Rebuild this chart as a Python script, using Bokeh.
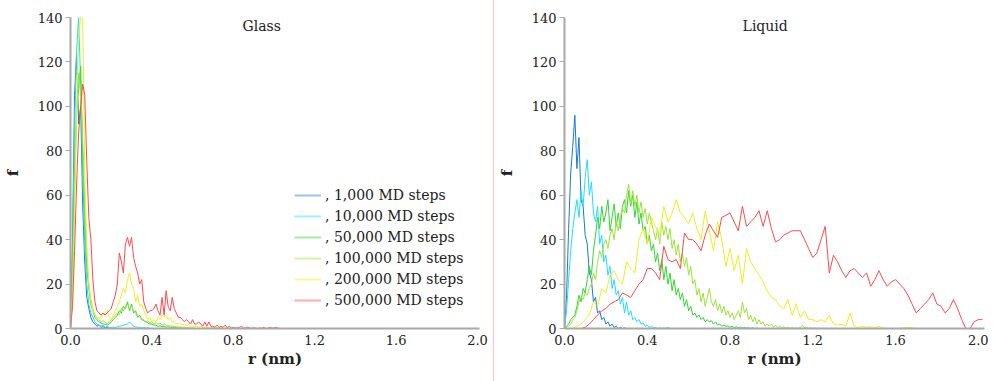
import numpy as np
from bokeh.plotting import figure
from bokeh.layouts import row
from bokeh.models import (ColumnDataSource, Legend, LegendItem, Label, Range1d,
                          FixedTicker, PrintfTickFormatter, Div)
from bokeh.embed import file_html
from bokeh.resources import INLINE

# ---- series definitions ------------------------------------------------------
step_labels = [", 1,000 MD steps", ", 10,000 MD steps", ", 50,000 MD steps",
               ", 100,000 MD steps", ", 200,000 MD steps", ", 500,000 MD steps"]
step_colors = ["#1a7ad4", "#22dcff", "#33d633", "#9be33a", "#eeee22", "#ff4a4a"]

x_ticks = [0.0, 0.4, 0.8, 1.2, 1.6, 2.0]
y_ticks = [0, 20, 40, 60, 80, 100, 120, 140]

# Glass: histogram bins start at r = 0 nm, width 0.01 nm
glass_r0, glass_dr = 0.0, 0.01
glass_1k = [0, 40, 105, 124, 92, 100, 55, 30, 14, 9, 5, 3, 2, 1, 1.5, 0.5, 0.8, 0.3,
            0.5, 0, 0.2, 0, 0.1, 0]
glass_10k = [0, 35, 90, 125, 140, 110, 70, 38, 20, 11, 7, 5, 3, 2, 1.5, 1, 1.5, 0.5, 1,
             0.5, 0.3, 0.6, 0.5, 0.8, 1, 1.2, 1.5, 1.8, 2, 3, 2, 1, 0.8, 0.5, 0.6, 0.3,
             0.4, 0.2, 0.3, 0.1, 0]
glass_50k = [0, 25, 70, 100, 108, 118, 80, 50, 28, 18, 11, 8, 5, 4, 3, 2.5, 2, 2, 1.5, 2,
             3, 4, 5, 6, 8, 7, 10, 9, 12, 8, 11, 7, 8, 5, 6, 4, 3.5, 3, 2.5, 2, 2, 1.5,
             1.5, 1, 1.2, 0.8, 1, 0.6, 0.8, 0.5, 0.6, 0.4, 0.3, 0.2, 0.3, 0.1, 0]
glass_100k = [0, 20, 60, 95, 115, 105, 85, 55, 32, 20, 13, 9, 6, 5, 4, 3, 3.5, 3, 2, 3,
              4, 5, 6, 7, 6, 9, 8, 10, 11, 9, 10, 8, 7, 6, 5, 4.5, 4, 3, 3.5, 2.5, 3, 2,
              2.5, 2, 2.5, 1.5, 2, 1.5, 1.5, 1, 1.2, 0.8, 1, 0.6, 0.8, 0.5, 0.6, 0.3,
              0.4, 0.2, 0.3, 0.1, 0]
glass_200k = [0, 15, 55, 100, 130, 141, 141, 70, 38, 20, 12, 8, 6, 5, 4.5, 5, 6, 7, 8, 5,
              4, 6, 8, 10, 12, 15, 18, 16, 22, 25, 20, 18, 12, 15, 10, 11, 8, 6, 4, 5, 3,
              4, 3, 5, 4, 6, 5, 6, 4, 5, 3, 3, 2, 2.5, 2, 1.5, 2, 1.5, 1.5, 1, 1.2, 0.8,
              1, 0.6, 1, 0.5, 0.8, 0.4, 0.6, 0.3, 0.5, 0.2, 0.4, 0.2, 0.3, 0.1, 0.2, 0,
              0.2, 0, 0]
glass_500k = [0, 10, 35, 65, 88, 100, 110, 105, 75, 50, 40, 22, 12, 8, 7, 6, 7, 6, 7, 8,
              9, 12, 15, 20, 34, 30, 25, 38, 41, 37, 41, 32, 28, 25, 20, 22, 12, 9, 7, 8,
              8, 9, 11, 8, 6, 14, 6, 17, 10, 8, 14, 9, 7, 5, 5, 4, 3, 4, 3, 2, 4, 2, 2,
              3, 2, 1, 3, 1, 3, 1, 1, 0.5, 1.5, 0.5, 1, 0.5, 1.5, 0.3, 1, 0.3, 0.5, 0.2,
              0.3, 0.5, 1, 0.2, 0.3, 0.6, 0.2, 0.1, 0.3, 0.2, 0, 0.3, 0.1, 0.5, 0, 0.1,
              0.6, 0.1, 0.2, 0.6, 0.1, 0]

# Liquid: each run has its own first bin and bin width
liquid_1k_r0, liquid_1k_dr = 0.0, 0.01
liquid_1k = [0, 15, 45, 70, 82, 96, 72, 86, 58, 55, 42, 38, 25, 22, 12, 14, 7, 8, 4, 5,
             2, 3, 1, 2, 0.5, 1, 0, 0.5, 0, 0.3, 0]
liquid_10k_r0, liquid_10k_dr = 0.0, 0.01
liquid_10k = [0, 8, 22, 35, 45, 52, 58, 50, 62, 55, 68, 76, 60, 66, 52, 48, 55, 38, 42,
              30, 33, 24, 28, 18, 22, 15, 17, 11, 14, 7, 12, 6, 8, 4, 5, 3, 4, 2, 2.5, 1,
              1.5, 0.5, 1, 0.3, 0.5, 0, 0.3, 0, 0.3, 0, 0.5, 0]
liquid_50k_r0, liquid_50k_dr = 0.0, 0.01
liquid_50k = [0, 1, 2, 4, 5, 6, 10, 15, 12, 18, 16, 22, 28, 24, 35, 42, 50, 45, 55, 48,
              52, 58, 44, 50, 56, 46, 52, 45, 55, 58, 52, 62, 55, 60, 50, 57, 47, 52, 44,
              46, 38, 42, 35, 38, 30, 34, 26, 31, 22, 28, 20, 25, 17, 22, 15, 18, 13, 16,
              10, 13, 8, 10, 6, 7, 5, 6, 4, 5, 3, 4, 3, 3.5, 2, 3, 1.5, 2, 1, 1.5, 1, 1.2,
              0.5, 1, 0.4, 0.8, 0.3, 0.6, 0.2, 0.5, 0.2, 0.4, 0, 0.3, 0, 0.2, 0, 0]
liquid_100k_r0, liquid_100k_dr = 0.0, 0.01
liquid_100k = [0, 0.5, 1, 2, 4, 5, 8, 12, 14, 13, 16, 15, 18, 20, 25, 22, 30, 35, 32, 38,
               40, 36, 42, 45, 40, 48, 44, 50, 54, 52, 60, 65, 56, 62, 55, 60, 52, 57, 50,
               54, 47, 52, 48, 44, 40, 45, 38, 48, 42, 46, 40, 45, 36, 40, 33, 38, 30, 34,
               28, 32, 24, 28, 20, 22, 15, 18, 12, 16, 10, 14, 18, 12, 10, 13, 8, 11, 7,
               10, 6, 8, 5, 7, 4, 6, 8, 5, 12, 7, 9, 4, 6, 3, 5, 2, 4, 2, 3, 1, 2, 1, 2,
               0.5, 1.5, 0.5, 1, 0.3, 0.8, 0.3, 0.5, 0, 0.5, 0, 0.3, 0, 0.5, 1.5, 0.3,
               0.5, 0, 0.3, 0, 0.3, 0, 0.2, 0]
liquid_200k_r0, liquid_200k_dr = 0.04, 0.02
liquid_200k = [0, 1, 2, 4, 6, 12, 10, 18, 16, 24, 26, 22, 20, 30, 27, 25, 40, 45, 38, 50,
               46, 42, 55, 48, 52, 58, 52, 50, 47, 52, 45, 40, 53, 44, 35, 48, 40, 28, 36,
               26, 33, 20, 36, 30, 27, 24, 21, 17, 14, 13, 10, 9, 13, 6, 11, 5, 8, 4, 4,
               3, 4, 3, 6, 2, 1.5, 2, 1, 7, 1, 0.5, 1, 0.5, 0.8, 0.3, 1, 0.2, 0, 0, 0, 0,
               0.3, 0.5, 0.3, 0]
liquid_500k_r0, liquid_500k_dr = 0.08, 0.02
liquid_500k = [0, 0.5, 2, 4, 6, 8, 9, 11, 12, 13, 16, 15, 14, 17, 20, 22, 27, 27, 25, 22,
               37, 31, 30, 31, 27, 43, 40, 40, 38, 35, 42, 47, 44, 41, 50, 51, 52, 48, 44,
               55, 46, 48, 50, 53, 46, 53, 45, 39, 40, 42, 43, 44, 44, 44, 40, 36, 32, 34,
               40, 46, 25, 33, 30, 26, 23, 26, 27, 25, 23, 25, 19, 22, 26, 22, 19, 21, 22,
               20, 18, 15, 11, 7, 9, 11, 13, 16, 11, 10, 7, 9, 13, 9, 4, 0, 0, 3, 4, 4]

glass_series = [(glass_r0, glass_dr, f) for f in
                (glass_1k, glass_10k, glass_50k, glass_100k, glass_200k, glass_500k)]
liquid_series = [(liquid_1k_r0, liquid_1k_dr, liquid_1k),
                 (liquid_10k_r0, liquid_10k_dr, liquid_10k),
                 (liquid_50k_r0, liquid_50k_dr, liquid_50k),
                 (liquid_100k_r0, liquid_100k_dr, liquid_100k),
                 (liquid_200k_r0, liquid_200k_dr, liquid_200k),
                 (liquid_500k_r0, liquid_500k_dr, liquid_500k)]

SERIF = "DejaVu Serif"
AXIS_GREY = "#a8a8a8"
TEXT = "#222222"


def make_panel(series, title, width, border_left, border_right, x_end, title_x):
    p = figure(width=width, height=381, output_backend="svg", toolbar_location=None,
               x_range=Range1d(0, x_end), y_range=Range1d(0, 140),
               min_border_left=border_left, min_border_right=border_right,
               min_border_top=17, min_border_bottom=53,
               background_fill_color="white", border_fill_color="white")
    p.outline_line_color = None
    p.grid.visible = False

    renderers = []
    for (r0, dr, f), color in zip(series, step_colors):
        f = np.asarray(f, dtype=float)
        r = r0 + dr * np.arange(len(f))
        src = ColumnDataSource(dict(r=r, f=f))
        renderers.append(p.line("r", "f", source=src, line_color=color, line_width=1))

    # axes
    for ax in (p.xaxis, p.yaxis):
        ax.axis_line_color = AXIS_GREY
        ax.axis_line_width = 2
        ax.major_tick_line_color = AXIS_GREY
        ax.major_tick_line_width = 1
        ax.minor_tick_line_color = None
        ax.major_tick_in = 0
        ax.major_label_text_font = SERIF
        ax.major_label_text_font_size = "13px"
        ax.major_label_text_color = TEXT
        ax.axis_label_text_font = SERIF
        ax.axis_label_text_font_style = "bold"
        ax.axis_label_text_font_size = "15px"
        ax.axis_label_text_color = TEXT

    p.xaxis.ticker = FixedTicker(ticks=x_ticks)
    p.xaxis.formatter = PrintfTickFormatter(format="%.1f")
    p.xaxis.major_tick_out = 0
    p.xaxis.major_label_standoff = 6
    p.xaxis.axis_label = "r (nm)"
    p.xaxis.axis_label_standoff = 2

    p.yaxis.ticker = FixedTicker(ticks=y_ticks)
    p.yaxis.major_tick_out = 5
    p.yaxis.major_label_standoff = 3
    p.yaxis.axis_label = "f"
    p.yaxis.axis_label_standoff = 13

    p.add_layout(Label(x=title_x, y=136, text=title, text_font=SERIF,
                       text_font_size="14px", text_color=TEXT,
                       text_align="center", text_baseline="middle"))
    return p, renderers


p1, _ = make_panel(glass_series, "Glass", 493, 68, 14, 2.01, 0.94)
p2, _ = make_panel(liquid_series, "Liquid", 499, 70, 9, 2.03, 0.97)

# legend: pale swatches (single undefined point, so nothing is plotted)
swatches = [p1.line(x=[np.nan], y=[np.nan], line_color=c, line_width=2, line_alpha=0.45)
            for c in step_colors]
legend = Legend(items=[LegendItem(label=lab, renderers=[rr])
                       for lab, rr in zip(step_labels, swatches)],
                location=(224, 19), orientation="vertical",
                glyph_width=27, glyph_height=18, label_height=18, spacing=3,
                label_standoff=4, padding=0, margin=0,
                label_text_font=SERIF, label_text_font_size="14px",
                label_text_color=TEXT,
                background_fill_alpha=0, border_line_color=None)
p1.add_layout(legend)

separator = Div(width=1, height=381, margin=0, styles={"background-color": "#f6c4c4"})

layout = row(p1, separator, p2)
open("out.html", "w").write(file_html(layout, INLINE))
